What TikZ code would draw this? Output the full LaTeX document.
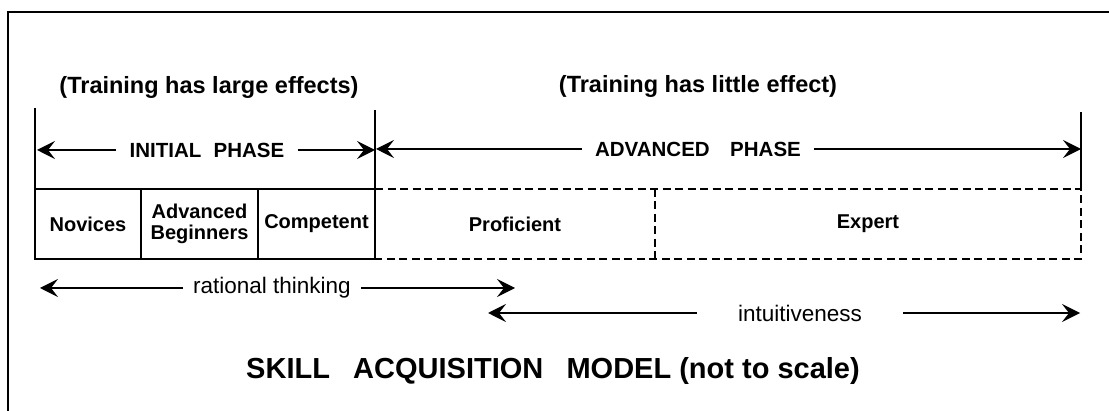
\documentclass[tikz,border=0pt]{standalone}
\usepackage{fontspec}
\setmainfont{Liberation Sans}
\usetikzlibrary{arrows.meta}

\begin{document}
\begin{tikzpicture}[x=1pt,y=-1pt,
    every node/.style={inner sep=0pt},
    head/.style={font=\bfseries\fontsize{23.5}{26}\selectfont},
    phase/.style={font=\bfseries\fontsize{20.5}{22}\selectfont,inner xsep=13pt},
    cell/.style={font=\bfseries\fontsize{20}{21}\selectfont,align=center},
    note/.style={font=\fontsize{22.5}{25}\selectfont,inner xsep=10pt},
    arr/.style={-{Stealth[length=18pt,width=18pt,inset=7pt]},line width=1.4pt},
    rule/.style={line width=1.4pt},
    dashrule/.style={line width=1.4pt,dash pattern=on 8pt off 4.5pt}]
  \useasboundingbox (0,0) rectangle (1109,411);
  \draw[line width=2pt] (8,420) -- (8,12) -- (1120,12);

  \node[head] (large)  at (209,87) {(Training has large effects)};
  \node[head] (little) at (698,86) {(Training has little effect)};

  % phases
  \node[phase] (init) at (207,150) {INITIAL\hspace{0.6em}PHASE};
  \node[phase] (adv)  at (698,149) {ADVANCED\hspace{1em}PHASE};
  \coordinate (init-l) at (37,150);
  \coordinate (init-r) at (375,150);
  \coordinate (adv-l)  at (376,149);
  \coordinate (adv-r)  at (1081,149);
  \draw[arr] (init) -- (init-l);
  \draw[arr] (init) -- (init-r);
  \draw[arr] (adv) -- (adv-l);
  \draw[arr] (adv) -- (adv-r);

  % stages
  \node[cell] (nov)  at (88,224)    {Novices};
  \node[cell] (beg)  at (199.5,224) {Advanced\\Beginners};
  \node[cell] (comp) at (316.5,224) {Competent};
  \node[cell] (prof) at (515,224)   {Proficient};
  \node[cell] (exp)  at (868,224)   {Expert};

  \draw[rule] (35,189) rectangle (375,259);
  \draw[rule] (35,108) -- (35,189);
  \draw[rule] (141,189) -- (141,259);
  \draw[rule] (258,189) -- (258,259);
  \draw[rule] (375,110) -- (375,189);
  \draw[rule] (1081,112) -- (1081,189);
  \draw[dashrule] (375,189) -- (1081,189) -- (1081,259) -- (375,259);
  \draw[dashrule] (655,189) -- (655,259);

  % thinking
  \node[note] (rat) at (272,288) {rational thinking};
  \node[note,inner xsep=41pt] (intu) at (800,313) {intuitiveness};
  \coordinate (rat-l)  at (40,288);
  \coordinate (rat-r)  at (515,288);
  \coordinate (intu-l) at (488,313);
  \coordinate (intu-r) at (1080,313);
  \draw[arr] (rat) -- (rat-l);
  \draw[arr] (rat) -- (rat-r);
  \draw[arr] (intu) -- (intu-l);
  \draw[arr] (intu) -- (intu-r);

  \node[font=\bfseries\fontsize{29}{32}\selectfont] (title) at (553,371)
    {SKILL\hspace{0.8em}ACQUISITION\hspace{0.8em}MODEL (not to scale)};
\end{tikzpicture}
\end{document}
